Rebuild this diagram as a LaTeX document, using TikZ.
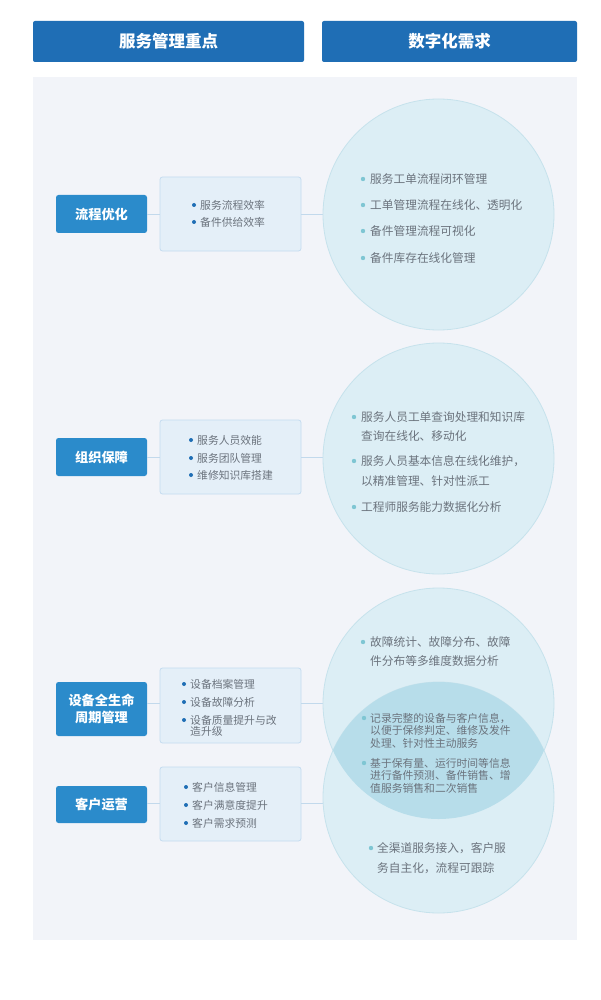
\documentclass[tikz,border=0pt]{standalone}
\usepackage{fontspec}
\setmainfont{Noto Sans CJK SC}
\definecolor{hdrc}{HTML}{1F6EB5}
\definecolor{lblc}{HTML}{2B8BCB}
\definecolor{boxc}{HTML}{E4EFF8}
\definecolor{boxb}{HTML}{C4DCF0}
\definecolor{circc}{HTML}{DCEEF5}
\definecolor{circb}{HTML}{C6E2EC}
\definecolor{ovc}{HTML}{B7DDEA}
\definecolor{panelc}{HTML}{F2F4F9}
\definecolor{txtc}{HTML}{6B737D}
\definecolor{bbul}{HTML}{1F6EB5}
\definecolor{cbul}{HTML}{7FC6D3}
\definecolor{linkc}{HTML}{C2D9EC}
\tikzset{
  hdr/.style={fill=hdrc, rounded corners=2pt, text=white, inner sep=0,
    font=\fontsize{16.5}{20}\selectfont\bfseries},
  lbl/.style={fill=lblc, rounded corners=2.5pt, text=white, inner sep=0,
    align=center, minimum width=91pt, font=\fontsize{13.2}{17}\selectfont\bfseries},
  itembox/.style={fill=boxc, draw=boxb, line width=0.8pt, rounded corners=2.5pt,
    minimum width=141pt, inner sep=0},
  circ/.style={circle, fill=circc, draw=circb, line width=0.8pt,
    minimum size=231pt, inner sep=0},
  tline/.style={anchor=west, inner sep=0, text=txtc},
  ct/.style={tline, font=\fontsize{11.7}{14}\selectfont},
  bt/.style={tline, font=\fontsize{10.8}{13}\selectfont},
  link/.style={draw=linkc, line width=0.8pt}
}
\begin{document}
\begin{tikzpicture}[x=1pt,y=-1pt]
\useasboundingbox[fill=white] (0,0) rectangle (600,1000);
% headers
\node[hdr, minimum width=271pt, minimum height=41pt] (h1) at (168.5,41.5) {服务管理重点};
\node[hdr, minimum width=255pt, minimum height=41pt] (h2) at (449.5,41.5) {数字化需求};
% panel
\fill[panelc] (33,77) rectangle (577,940);
% coordinates for connector heights
\coordinate (y1) at (0,214);
\coordinate (y2) at (0,457.5);
\coordinate (y3) at (0,703);
\coordinate (y4) at (0,803);
% labels
\node[lbl, minimum height=38pt] (l1) at (101.5,214) {流程优化};
\node[lbl, minimum height=38pt] (l2) at (101.5,457) {组织保障};
\node[lbl, minimum height=54pt] (l3) at (101.5,709) {设备全生命\\周期管理};
\node[lbl, minimum height=37pt] (l4) at (101.5,804.5) {客户运营};
% boxes
\node[itembox, minimum height=74pt] (b1) at (230.5,214) {};
\node[itembox, minimum height=74pt] (b2) at (230.5,457) {};
\node[itembox, minimum height=75pt] (b3) at (230.5,705.5) {};
\node[itembox, minimum height=74pt] (b4) at (230.5,804) {};
% circles placeholders for connectors
\coordinate (c1w) at (323,214.5);
\coordinate (c2w) at (323,458.5);
\coordinate (c3w) at (323,703.5);
\coordinate (c4w) at (323,797.5);
% connectors
\draw[link] (l1.east |- y1) -- (b1.west |- y1);
\draw[link] (b1.east |- y1) -- ([xshift=10pt]c1w |- y1);
\draw[link] (l2.east |- y2) -- (b2.west |- y2);
\draw[link] (b2.east |- y2) -- ([xshift=10pt]c2w |- y2);
\draw[link] (l3.east |- y3) -- (b3.west |- y3);
\draw[link] (b3.east |- y3) -- ([xshift=10pt]c3w |- y3);
\draw[link] (l4.east |- y4) -- (b4.west |- y4);
\draw[link] (b4.east |- y4) -- ([xshift=10pt]c4w |- y4);
% circles
\node[circ] (c1) at (438.5,214.5) {};
\node[circ] (c2) at (438.5,458.5) {};
\node[circ] (c3) at (438.5,703.5) {};
\node[circ] (c4) at (438.5,797.5) {};
\begin{scope}
  \clip (c3.center) circle (115.5);
  \fill[ovc] (c4.center) circle (115.5);
\end{scope}
% box texts
\fill[bbul] (194,205) circle (2pt); \node[bt] (b1a) at (200,205) {服务流程效率};
\fill[bbul] (194,222) circle (2pt); \node[bt] (b1b) at (200,222) {备件供给效率};
\fill[bbul] (191,440) circle (2pt); \node[bt] (b2a) at (197,440) {服务人员效能};
\fill[bbul] (191,458) circle (2pt); \node[bt] (b2b) at (197,458) {服务团队管理};
\fill[bbul] (191,475) circle (2pt); \node[bt] (b2c) at (197,475) {维修知识库搭建};
\fill[bbul] (184,684) circle (2pt); \node[bt] (b3a) at (190,684) {设备档案管理};
\fill[bbul] (184,702) circle (2pt); \node[bt] (b3b) at (190,702) {设备故障分析};
\fill[bbul] (184,720) circle (2pt); \node[bt] (b3c) at (190,720) {设备质量提升与改};
\node[bt] (b3d) at (190,731) {造升级};
\fill[bbul] (186,787) circle (2pt); \node[bt] (b4a) at (192,787) {客户信息管理};
\fill[bbul] (186,805) circle (2pt); \node[bt] (b4b) at (192,805) {客户满意度提升};
\fill[bbul] (186,823) circle (2pt); \node[bt] (b4c) at (192,823) {客户需求预测};
% circle 1
\fill[cbul] (363,179) circle (2.2pt); \node[ct] (c1a) at (370,179) {服务工单流程闭环管理};
\fill[cbul] (363,205) circle (2.2pt); \node[ct] (c1b) at (370,205) {工单管理流程在线化、透明化};
\fill[cbul] (363,231) circle (2.2pt); \node[ct] (c1c) at (370,231) {备件管理流程可视化};
\fill[cbul] (363,258) circle (2.2pt); \node[ct] (c1d) at (370,258) {备件库存在线化管理};
% circle 2
\fill[cbul] (354,417) circle (2.2pt); \node[ct] (c2a) at (361,417) {服务人员工单查询处理和知识库};
\node[ct] (c2b) at (361,436) {查询在线化、移动化};
\fill[cbul] (354,461) circle (2.2pt); \node[ct] (c2c) at (361,461) {服务人员基本信息在线化维护，};
\node[ct] (c2d) at (361,481) {以精准管理、针对性派工};
\fill[cbul] (354,507) circle (2.2pt); \node[ct] (c2e) at (361,507) {工程师服务能力数据化分析};
% circle 3
\fill[cbul] (363,642) circle (2.2pt); \node[ct] (c3a) at (370,642) {故障统计、故障分布、故障};
\node[ct] (c3b) at (370,661) {件分布等多维度数据分析};
% overlap
\fill[cbul] (364,718) circle (2.2pt); \node[bt] (o1) at (370,718) {记录完整的设备与客户信息，};
\node[bt] (o2) at (370,730.5) {以便于保修判定、维修及发件};
\node[bt] (o3) at (370,743) {处理、针对性主动服务};
\fill[cbul] (364,763) circle (2.2pt); \node[bt] (o4) at (370,763) {基于保有量、运行时间等信息};
\node[bt] (o5) at (370,775.5) {进行备件预测、备件销售、增};
\node[bt] (o6) at (370,788) {值服务销售和二次销售};
% circle 4
\fill[cbul] (371,848) circle (2.2pt); \node[ct] (c4a) at (377,848) {全渠道服务接入，客户服};
\node[ct] (c4b) at (377,868) {务自主化，流程可跟踪};
\end{tikzpicture}
\end{document}
